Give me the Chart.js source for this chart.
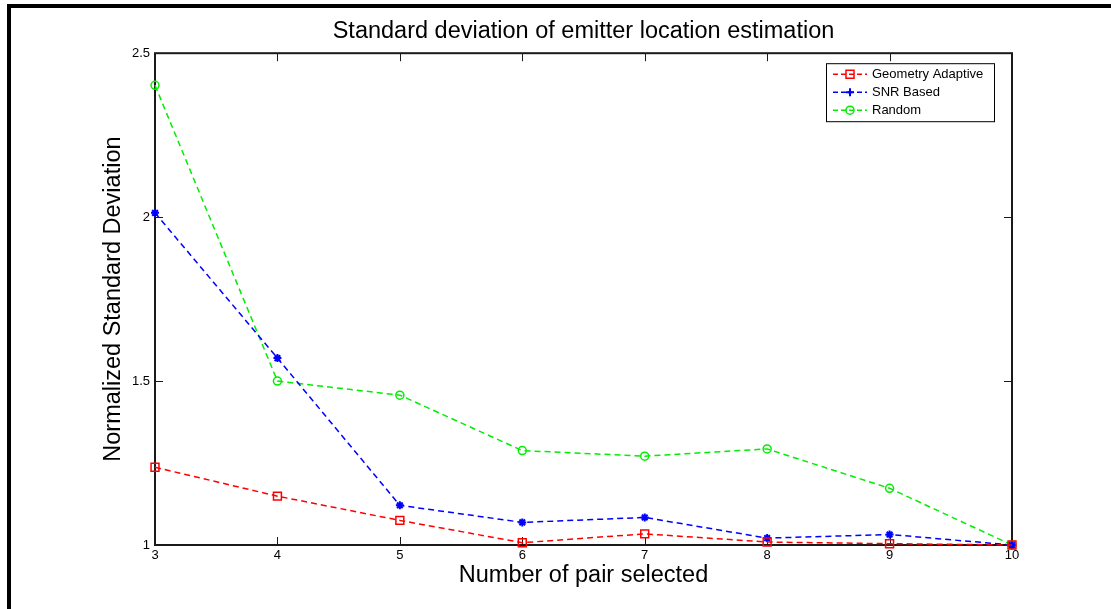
<!DOCTYPE html>
<html>
<head>
<meta charset="utf-8">
<script src="https://cdn.jsdelivr.net/npm/chart.js@4.4.1/dist/chart.umd.min.js"></script>
<style>
  html, body { margin: 0; padding: 0; background: #fff; }
  #wrap { position: relative; width: 1111px; height: 609px; overflow: hidden; }
  #frame { position: absolute; left: 7px; top: 4px; right: 0; bottom: 0;
           border-top: 4px solid #000; border-left: 4px solid #000; pointer-events: none; }
</style>
</head>
<body>
<div id="wrap">
  <canvas id="graph" width="1111" height="609"></canvas>
  <div id="frame"></div>
</div>
<script>
// values
const pairCounts = ['3', '4', '5', '6', '7', '8', '9', '10'];
const geometryAdaptive = [1.237, 1.149, 1.075, 1.007, 1.034, 1.009, 1.004, 1.0];
const snrBased = [2.013, 1.570, 1.121, 1.069, 1.084, 1.021, 1.032, 1.0];
const randomPairs = [2.402, 1.500, 1.457, 1.288, 1.271, 1.293, 1.173, 1.0];
const yTicks = [1, 1.5, 2, 2.5];

const FONT = "'Liberation Sans', Arial, Helvetica, sans-serif";

// MATLAB style box with inward ticks on all four sides
const matlabAxes = {
    id: 'matlabAxes',
    beforeDatasetsDraw(chart){
        const ctx = chart.ctx;
        const a = chart.chartArea;
        const x = chart.scales.x;
        const y = chart.scales.y;
        const tl = 8;
        ctx.save();
        ctx.strokeStyle = '#1a1a1a';
        ctx.lineWidth = 1;
        ctx.beginPath();
        for(let i=0; i < x.ticks.length; i++){
            const px = Math.round(x.getPixelForTick(i)) + 0.5;
            ctx.moveTo(px, a.bottom); ctx.lineTo(px, a.bottom - tl);
            ctx.moveTo(px, a.top); ctx.lineTo(px, a.top + tl);
        }
        for(let i=0; i < y.ticks.length; i++){
            const py = Math.round(y.getPixelForValue(y.ticks[i].value)) + 0.5;
            ctx.moveTo(a.left, py); ctx.lineTo(a.left + tl, py);
            ctx.moveTo(a.right, py); ctx.lineTo(a.right - tl, py);
        }
        ctx.stroke();
        ctx.lineWidth = 2;
        ctx.strokeRect(a.left, a.top, a.right - a.left, a.bottom - a.top);
        ctx.restore();
    }
};

function DrawMarker(ctx, style, x, y, color){
    ctx.save();
    ctx.strokeStyle = color;
    ctx.fillStyle = color;
    ctx.setLineDash([]);
    ctx.lineWidth = 1.5;
    ctx.beginPath();
    if(style === 'rect'){
        ctx.rect(x - 4, y - 4, 8, 8);
        ctx.stroke();
    }
    else if(style === 'circle'){
        ctx.arc(x, y, 4, 0, Math.PI * 2);
        ctx.stroke();
    }
    else {
        ctx.lineWidth = 2;
        ctx.moveTo(x - 4, y); ctx.lineTo(x + 4, y);
        ctx.moveTo(x, y - 4); ctx.lineTo(x, y + 4);
        ctx.stroke();
        ctx.beginPath();
        ctx.moveTo(x - 2.5, y); ctx.lineTo(x, y - 2.5); ctx.lineTo(x + 2.5, y); ctx.lineTo(x, y + 2.5);
        ctx.closePath();
        ctx.fill();
    }
    ctx.restore();
}

// legend box in the upper right corner of the plot
const boxLegend = {
    id: 'boxLegend',
    afterDraw(chart){
        const ctx = chart.ctx;
        const a = chart.chartArea;
        const sets = chart.data.datasets;
        const bx = a.right - 186, by = a.top + 10, bw = 168, bh = 58;
        ctx.save();
        ctx.fillStyle = '#fff';
        ctx.fillRect(bx, by, bw, bh);
        ctx.strokeStyle = '#000';
        ctx.lineWidth = 1;
        ctx.strokeRect(bx + 0.5, by + 0.5, bw, bh);
        ctx.font = '13px ' + FONT;
        ctx.textBaseline = 'middle';
        for(let i=0; i < sets.length; i++){
            const ly = by + 11 + i * 18;
            ctx.strokeStyle = sets[i].borderColor;
            ctx.lineWidth = 1.5;
            ctx.setLineDash([5, 3]);
            ctx.beginPath();
            ctx.moveTo(bx + 7, ly); ctx.lineTo(bx + 41, ly);
            ctx.stroke();
            ctx.setLineDash([]);
            DrawMarker(ctx, sets[i].pointStyle, bx + 24, ly, sets[i].borderColor);
            ctx.fillStyle = '#000';
            ctx.fillText(sets[i].label, bx + 46, ly);
        }
        ctx.restore();
    }
};

function CreateLine(canva){
    let ctx = document.getElementById(canva);
    const common = {
        borderWidth: 1.5,
        borderDash: [6, 4],
        pointBorderWidth: 1.5,
        pointBackgroundColor: 'rgba(0,0,0,0)',
        tension: 0,
        clip: false
    };
    return new Chart(ctx, {
        type: 'line',
        data: {
            labels: pairCounts,
            datasets: [
                Object.assign({}, common, {
                    label: 'Geometry Adaptive',
                    data: geometryAdaptive,
                    borderColor: '#ff0000',
                    pointBorderColor: '#ff0000',
                    pointStyle: 'rect',
                    pointRadius: 5.6
                }),
                Object.assign({}, common, {
                    label: 'SNR Based',
                    data: snrBased,
                    borderColor: '#0000ff',
                    pointBorderColor: '#0000ff',
                    pointBackgroundColor: '#0000ff',
                    pointStyle: 'star',
                    pointRadius: 4,
                    pointBorderWidth: 2
                }),
                Object.assign({}, common, {
                    label: 'Random',
                    data: randomPairs,
                    borderColor: '#00ee00',
                    pointBorderColor: '#00ee00',
                    pointStyle: 'circle',
                    pointRadius: 4
                })
            ]
        },
        options: {
            responsive: false,
            animation: false,
            layout: { padding: { left: 99, right: 99, top: 0, bottom: 0 } },
            plugins: {
                legend: { display: false },
                tooltip: { enabled: false },
                title: {
                    display: true,
                    fullSize: false,
                    text: 'Standard deviation of emitter location estimation',
                    color: '#000',
                    font: { family: FONT, size: 23.5, weight: 'normal' },
                    padding: { top: 17, bottom: 8 }
                }
            },
            scales: {
                x: {
                    grid: { display: false, drawTicks: false, tickLength: 0 },
                    border: { display: false },
                    ticks: { color: '#000', font: { family: FONT, size: 13 }, padding: 3, maxRotation: 0, autoSkip: false },
                    title: {
                        display: true,
                        text: 'Number of pair selected',
                        color: '#000',
                        font: { family: FONT, size: 23.5 },
                        padding: { top: 0, bottom: 19 }
                    },
                    afterFit: (scale) => { scale.height = 64; }
                },
                y: {
                    min: yTicks[0],
                    max: yTicks[yTicks.length - 1],
                    grid: { display: false, drawTicks: false, tickLength: 0 },
                    border: { display: false },
                    afterBuildTicks: (scale) => { scale.ticks = yTicks.map(v => ({ value: v })); },
                    ticks: { color: '#000', font: { family: FONT, size: 13 }, padding: 5, callback: (v) => String(v) },
                    title: {
                        display: true,
                        text: 'Normalized Standard Deviation',
                        color: '#000',
                        font: { family: FONT, size: 23.5 },
                        padding: { top: 0, bottom: 0 }
                    },
                    afterFit: (scale) => { scale.width = 56; }
                }
            }
        },
        plugins: [matlabAxes, boxLegend]
    });
}

CreateLine('graph');
</script>
</body>
</html>
